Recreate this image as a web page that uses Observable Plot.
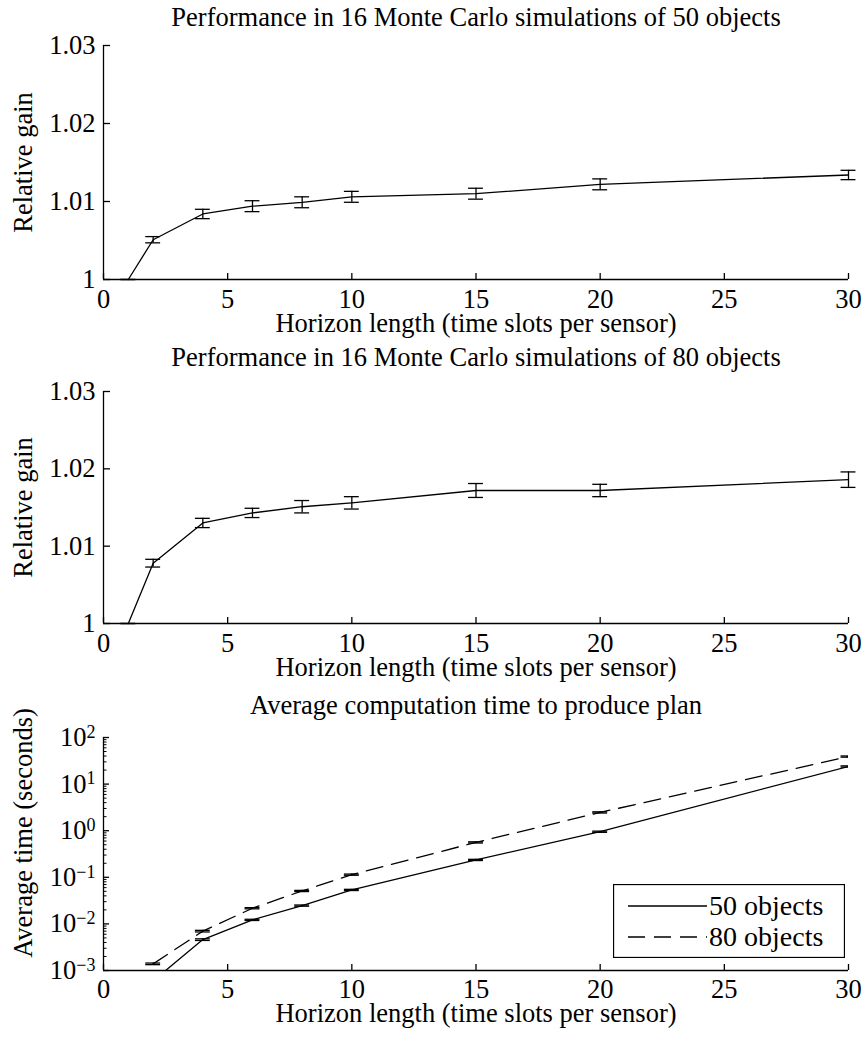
<!DOCTYPE html>
<html><head><meta charset="utf-8">
<script src="https://cdn.jsdelivr.net/npm/d3@7"></script>
<script src="https://cdn.jsdelivr.net/npm/@observablehq/plot@0.6"></script>
<style>
body{margin:0;background:#fff;}
#chart{position:relative;width:865px;height:1039px;}
#chart svg{display:block;}
#legend{position:absolute;left:613px;top:884px;}
</style></head><body><div id="chart"></div>
<script>
// ---- data ----
const horizon = [1, 2, 4, 6, 8, 10, 15, 20, 30];
const gain50 = [1.0, 1.0051, 1.0084, 1.0094, 1.0099, 1.0106, 1.0110, 1.0122, 1.0134];
const err50  = [0, 0.0004, 0.0006, 0.0007, 0.0007, 0.0007, 0.0007, 0.0007, 0.0006];
const gain80 = [1.0, 1.0078, 1.0130, 1.0143, 1.0151, 1.0156, 1.0172, 1.0172, 1.0186];
const err80  = [0, 0.0005, 0.0006, 0.0006, 0.0008, 0.0008, 0.0009, 0.0008, 0.0010];
const timeHorizon = [2, 4, 6, 8, 10, 15, 20, 30];
const time50 = [0.0006, 0.0046, 0.0122, 0.0247, 0.0536, 0.236, 0.95, 23.9];
const time80 = [0.00139, 0.0070, 0.0217, 0.0509, 0.114, 0.561, 2.47, 39];
const timeRelErr = [0.04, 0.04, 0.03, 0.03, 0.03, 0.03, 0.03, 0.03];
const seriesNames = ["50 objects", "80 objects"];
const xTicks = [0, 5, 10, 15, 20, 25, 30];
const gainTicks = [1, 1.01, 1.02, 1.03];
const timeTicks = [1e-3, 1e-2, 1e-1, 1e0, 1e1, 1e2];
const titles = [
  "Performance in 16 Monte Carlo simulations of 50 objects",
  "Performance in 16 Monte Carlo simulations of 80 objects",
  "Average computation time to produce plan"
];
const xLabel = "Horizon length (time slots per sensor)";
const yLabels = ["Relative gain", "Relative gain", "Average time (seconds)"];

// ---- helpers ----
const FONT = "Liberation Serif, Times New Roman, serif";
const style = {fontFamily: FONT, fontSize: "26.5px", color: "black", background: "white", overflow: "visible"};
const CAP = 0.3;
const SW = 1.3;
const chart = document.getElementById("chart");
const txt = {lineAnchor: "middle", textAnchor: "middle", fill: "black"};

function errorMarks(rows, extra = {}) {
  return [
    Plot.ruleX(rows, {x: "x", y1: "lo", y2: "hi", stroke: "black", strokeWidth: SW, ...extra}),
    Plot.ruleY(rows, {y: "lo", x1: d => d.x - CAP, x2: d => d.x + CAP, stroke: "black", strokeWidth: SW, ...extra}),
    Plot.ruleY(rows, {y: "hi", x1: d => d.x - CAP, x2: d => d.x + CAP, stroke: "black", strokeWidth: SW, ...extra})
  ];
}

function gainPanel(idx, ys, es, mt, frameH, mb, titleDy) {
  const rows = horizon.map((x, i) => ({x, y: ys[i], lo: ys[i] - es[i], hi: ys[i] + es[i]}));
  return Plot.plot({
    width: 865, height: mt + frameH + mb,
    marginLeft: 103, marginRight: 17, marginTop: mt, marginBottom: mb,
    style,
    x: {domain: [0, 30]},
    y: {domain: [1, 1.03]},
    marks: [
      Plot.ruleX([0], {stroke: "black", strokeWidth: SW}),
      Plot.ruleY([1], {stroke: "black", strokeWidth: SW}),
      Plot.axisX({ticks: xTicks, tickSize: -6, tickPadding: 16, tickFormat: d3.format("d"), label: null, strokeWidth: SW}),
      Plot.axisY({ticks: gainTicks, tickSize: -7, tickPadding: 15, tickFormat: d => d === 1 ? "1" : d.toFixed(2), label: null, strokeWidth: SW}),
      Plot.line(rows, {x: "x", y: "y", stroke: "black", strokeWidth: SW}),
      ...errorMarks(rows),
      Plot.text([titles[idx]], {frameAnchor: "top", dy: titleDy, ...txt}),
      Plot.text([xLabel], {frameAnchor: "bottom", dy: 44, ...txt}),
      Plot.text([yLabels[idx]], {frameAnchor: "left", rotate: -90, dx: -80, ...txt})
    ]
  });
}

function timePanel(mt, frameH, mb) {
  const rows50 = timeHorizon.map((x, i) => ({x, y: time50[i], lo: time50[i] * (1 - timeRelErr[i]), hi: time50[i] * (1 + timeRelErr[i])}));
  const rows80 = timeHorizon.map((x, i) => ({x, y: time80[i], lo: time80[i] * (1 - timeRelErr[i]), hi: time80[i] * (1 + timeRelErr[i])}));
  const minor = [];
  for (let e = -3; e < 2; e++) for (let m = 2; m <= 9; m++) minor.push(m * Math.pow(10, e));
  return Plot.plot({
    width: 865, height: mt + frameH + mb,
    marginLeft: 103, marginRight: 17, marginTop: mt, marginBottom: mb,
    style,
    x: {domain: [0, 30]},
    y: {type: "log", domain: [1e-3, 1e2]},
    marks: [
      Plot.ruleX([0], {stroke: "black", strokeWidth: SW}),
      Plot.ruleY([1e-3], {stroke: "black", strokeWidth: SW}),
      Plot.axisX({ticks: xTicks, tickSize: -6, tickPadding: 15, tickFormat: d3.format("d"), label: null, strokeWidth: SW}),
      Plot.axisY({ticks: minor, tickSize: -3.5, tickFormat: () => "", label: null, strokeWidth: 1}),
      Plot.axisY({ticks: timeTicks, tickSize: -6, tickPadding: 14, tickFormat: d => "10^" + Math.round(Math.log10(d)), label: null, strokeWidth: SW}),
      Plot.line(rows50, {x: "x", y: "y", stroke: "black", strokeWidth: SW, clip: true}),
      Plot.line(rows80, {x: "x", y: "y", stroke: "black", strokeWidth: SW, strokeDasharray: "17,9", clip: true}),
      ...errorMarks(rows50, {clip: true}),
      ...errorMarks(rows80, {clip: true}),
      Plot.text([titles[2]], {frameAnchor: "top", dy: -32, ...txt}),
      Plot.text([xLabel], {frameAnchor: "bottom", dy: 43, ...txt}),
      Plot.text([yLabels[2]], {frameAnchor: "left", rotate: -90, dx: -80, dy: -21, ...txt})
    ]
  });
}

const p1 = gainPanel(0, gain50, err50, 45, 234, 66, -28);
const p2 = gainPanel(1, gain80, err80, 46, 232, 66, -34);
const p3 = timePanel(48, 233, 69);
chart.append(p1, p2, p3);

// superscript exponents on the log axis
p3.querySelectorAll("text").forEach(t => {
  const s = t.textContent;
  if (!s.startsWith("10^")) return;
  const e = s.slice(3).replace("-", "\u2212");
  t.textContent = "10";
  const ts = document.createElementNS("http://www.w3.org/2000/svg", "tspan");
  ts.setAttribute("dy", "-0.45em");
  ts.setAttribute("font-size", "18px");
  ts.textContent = e;
  t.appendChild(ts);
});

// legend
const NS = "http://www.w3.org/2000/svg";
const leg = document.createElementNS(NS, "svg");
leg.setAttribute("id", "legend");
leg.setAttribute("width", 232);
leg.setAttribute("height", 74);
leg.style.fontFamily = FONT;
leg.style.fontSize = "28px";
const rect = document.createElementNS(NS, "rect");
rect.setAttribute("x", 0.5); rect.setAttribute("y", 0.5);
rect.setAttribute("width", 231); rect.setAttribute("height", 73);
rect.setAttribute("fill", "white"); rect.setAttribute("stroke", "black"); rect.setAttribute("stroke-width", 1.3);
leg.appendChild(rect);
seriesNames.forEach((name, i) => {
  const yy = 22 + i * 31;
  const ln = document.createElementNS(NS, "line");
  ln.setAttribute("x1", 15); ln.setAttribute("x2", 94);
  ln.setAttribute("y1", yy); ln.setAttribute("y2", yy);
  ln.setAttribute("stroke", "black"); ln.setAttribute("stroke-width", SW);
  if (i === 1) ln.setAttribute("stroke-dasharray", "17,9");
  leg.appendChild(ln);
  const tx = document.createElementNS(NS, "text");
  tx.setAttribute("x", 96); tx.setAttribute("y", yy); tx.setAttribute("dy", "0.33em");
  tx.textContent = name;
  leg.appendChild(tx);
});
chart.appendChild(leg);
</script>
</body></html>
